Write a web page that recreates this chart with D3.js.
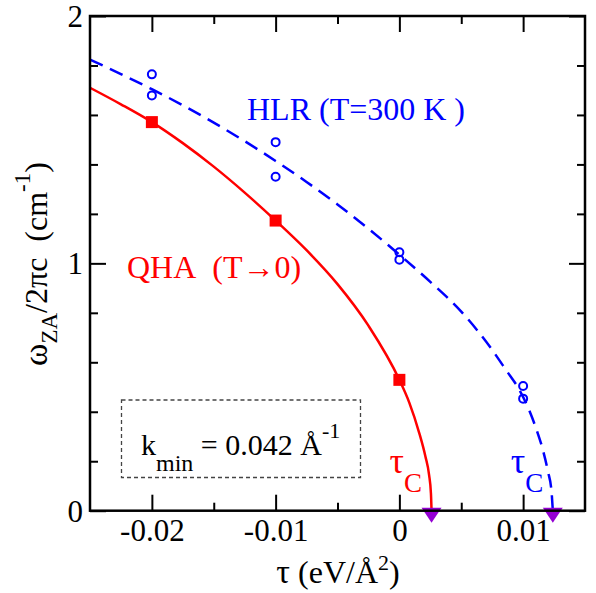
<!DOCTYPE html>
<html>
<head>
<meta charset="utf-8">
<script src="https://cdn.jsdelivr.net/npm/d3@7"></script>
<style>
  html, body { margin: 0; padding: 0; background: #fff; }
  svg { display: block; }
</style>
</head>
<body>
<svg id="chart" width="596" height="593" font-family="Liberation Serif"></svg>
<script>
// Axis ticks
const tauMajor = [-0.02, -0.01, 0, 0.01];
const tauMajorLabels = ["-0.02", "-0.01", "0", "0.01"];
const tauMinor = [-0.015, -0.005, 0.005];
const omegaMajor = [0, 1, 2];
const omegaMajorLabels = ["0", "1", "2"];
const omegaMinor = [0.2, 0.4, 0.6, 0.8, 1.2, 1.4, 1.6, 1.8];

// QHA (T -> 0): computed points
const qhaTau = [-0.02, -0.01, 0];
const qhaOmega = [1.571, 1.173, 0.529];
// QHA fit curve
const qhaFitTau = [-0.025, -0.0225, -0.02, -0.0175, -0.015, -0.0125, -0.01, -0.0075, -0.005, -0.0025, 0, 0.0008, 0.0016, 0.0021, 0.0024, 0.00255, 0.0026];
const qhaFitOmega = [1.71, 1.643, 1.571, 1.486, 1.391, 1.286, 1.173, 1.053, 0.916, 0.748, 0.529, 0.437, 0.315, 0.22, 0.145, 0.07, 0];

// HLR (T = 300 K): computed points
const hlrTau = [-0.02, -0.02, -0.01, -0.01, 0, 0, 0.01, 0.01];
const hlrOmega = [1.764, 1.679, 1.490, 1.350, 1.045, 1.015, 0.504, 0.453];
// HLR fit curve
const hlrFitTau = [-0.025, -0.0225, -0.02, -0.0175, -0.015, -0.0125, -0.01, -0.0075, -0.005, -0.0025, 0, 0.0025, 0.005, 0.0075, 0.0086, 0.0097, 0.0105, 0.0111, 0.0116, 0.012, 0.0123, 0.0124];
const hlrFitOmega = [1.824, 1.765, 1.704, 1.639, 1.569, 1.494, 1.414, 1.329, 1.238, 1.14, 1.035, 0.925, 0.805, 0.65, 0.57, 0.488, 0.405, 0.325, 0.245, 0.16, 0.075, 0];

// Critical strains
const tauC = [0.0026, 0.0124];
const tauCColors = ["#ff0000", "#0000ff"];

const SERIF = "Liberation Serif";
const FONT = 31;

const svg = d3.select("#chart");
const x = d3.scaleLinear().domain([-0.025, 0.015]).range([90, 585]);
const y = d3.scaleLinear().domain([0, 2]).range([510.7, 16]);

function addText(parent) {
  return parent.append("text").style("font-family", SERIF);
}

// Curves
const line = d3.line().x(d => x(d[0])).y(d => y(d[1])).curve(d3.curveMonotoneX);

svg.append("path")
  .datum(d3.zip(qhaFitTau, qhaFitOmega))
  .attr("d", line)
  .attr("fill", "none").attr("stroke", "#ff0000").attr("stroke-width", 2.5);

svg.append("path")
  .datum(d3.zip(hlrFitTau, hlrFitOmega))
  .attr("d", line)
  .attr("fill", "none").attr("stroke", "#0000ff").attr("stroke-width", 2.5)
  .attr("stroke-dasharray", "14,8");

// Points
svg.append("g").selectAll("rect")
  .data(d3.zip(qhaTau, qhaOmega))
  .join("rect")
  .attr("x", d => x(d[0]) - 6).attr("y", d => y(d[1]) - 6)
  .attr("width", 12).attr("height", 12)
  .attr("fill", "#ff0000");

svg.append("g").selectAll("circle")
  .data(d3.zip(hlrTau, hlrOmega))
  .join("circle")
  .attr("cx", d => x(d[0])).attr("cy", d => y(d[1])).attr("r", 4)
  .attr("fill", "none").attr("stroke", "#0000ff").attr("stroke-width", 2);

// Critical strain markers
svg.append("g").selectAll("path")
  .data(tauC)
  .join("path")
  .attr("d", d => {
    const cx = x(d), cy = y(0);
    return `M${cx - 10},${cy - 3}L${cx + 10},${cy - 3}L${cx},${cy + 12}Z`;
  })
  .attr("fill", "#9400d3");

// Axes: ticks point inward on all four sides
function styleAxis(g) {
  g.attr("font-family", SERIF);
  g.select(".domain").remove();
  g.selectAll(".tick line").attr("stroke", "#000").attr("stroke-width", 2);
}

svg.append("g").attr("transform", `translate(0,${y(0)})`)
  .call(d3.axisBottom(x).tickValues(tauMajor).tickSize(-16)
    .tickFormat((d, i) => tauMajorLabels[i]))
  .call(styleAxis)
  .call(g => g.selectAll(".tick text")
    .attr("y", 30).attr("dy", 0)
    .attr("font-size", FONT).style("font-family", SERIF).attr("fill", "#000"));

svg.append("g").attr("transform", `translate(0,${y(0)})`)
  .call(d3.axisBottom(x).tickValues(tauMinor).tickSize(-8).tickFormat(""))
  .call(styleAxis);

svg.append("g").attr("transform", `translate(0,${y(2)})`)
  .call(d3.axisTop(x).tickValues(tauMajor).tickSize(-16).tickFormat(""))
  .call(styleAxis);
svg.append("g").attr("transform", `translate(0,${y(2)})`)
  .call(d3.axisTop(x).tickValues(tauMinor).tickSize(-8).tickFormat(""))
  .call(styleAxis);

svg.append("g").attr("transform", `translate(${x(-0.025)},0)`)
  .call(d3.axisLeft(y).tickValues(omegaMajor).tickSize(-16)
    .tickFormat((d, i) => omegaMajorLabels[i]))
  .call(styleAxis)
  .call(g => g.selectAll(".tick text")
    .attr("x", -7).attr("dy", 10.5)
    .attr("font-size", FONT).style("font-family", SERIF).attr("fill", "#000"));
svg.append("g").attr("transform", `translate(${x(-0.025)},0)`)
  .call(d3.axisLeft(y).tickValues(omegaMinor).tickSize(-8).tickFormat(""))
  .call(styleAxis);

svg.append("g").attr("transform", `translate(${x(0.015)},0)`)
  .call(d3.axisRight(y).tickValues(omegaMajor).tickSize(-16).tickFormat(""))
  .call(styleAxis);
svg.append("g").attr("transform", `translate(${x(0.015)},0)`)
  .call(d3.axisRight(y).tickValues(omegaMinor).tickSize(-8).tickFormat(""))
  .call(styleAxis);

// Frame
svg.append("rect")
  .attr("x", x(-0.025)).attr("y", y(2))
  .attr("width", x(0.015) - x(-0.025)).attr("height", y(0) - y(2))
  .attr("fill", "none").attr("stroke", "#000").attr("stroke-width", 2.5);

// Axis titles
const yTitle = addText(svg)
  .attr("transform", "translate(47,264) rotate(-90)")
  .attr("text-anchor", "middle").attr("font-size", 32).attr("fill", "#000");
yTitle.append("tspan").attr("font-size", 34).text("ω");
yTitle.append("tspan").attr("font-size", 23).attr("dy", 10).text("ZA");
yTitle.append("tspan").attr("dy", -10).text("/2πc\u00a0\u00a0(cm");
yTitle.append("tspan").attr("font-size", 23).attr("dy", -17).text("-1");
yTitle.append("tspan").attr("dy", 17).text(")");

const xTitle = addText(svg)
  .attr("x", 338).attr("y", 583)
  .attr("text-anchor", "middle").attr("font-size", 32).attr("fill", "#000");
xTitle.append("tspan").attr("font-size", 34).text("τ");
xTitle.append("tspan").text("\u00a0(eV/Å");
xTitle.append("tspan").attr("font-size", 22).attr("dy", -13).text("2");
xTitle.append("tspan").attr("dy", 13).text(")");

// Series labels
addText(svg).attr("x", 247).attr("y", 120)
  .attr("font-size", 32).attr("fill", "#0000ff").text("HLR (T=300 K\u00a0)");
addText(svg).attr("x", 127).attr("y", 278)
  .attr("font-size", 32).attr("fill", "#ff0000").text("QHA\u00a0\u00a0(T→0)");

// Critical strain labels
tauC.forEach((t, i) => {
  const lbl = addText(svg)
    .attr("x", x(t) - 42).attr("y", 473)
    .attr("font-size", 36).attr("fill", tauCColors[i]);
  lbl.append("tspan").text("τ");
  lbl.append("tspan").attr("font-size", 27).attr("dy", 19).text("C");
});

// k_min box
svg.append("rect")
  .attr("x", 121.5).attr("y", 400).attr("width", 239).attr("height", 77.5)
  .attr("fill", "none").attr("stroke", "#444").attr("stroke-width", 1.3)
  .attr("stroke-dasharray", "4,3");
const k = addText(svg).attr("x", 141).attr("y", 455)
  .attr("font-size", 30).attr("fill", "#000");
k.append("tspan").text("k");
k.append("tspan").attr("font-size", 24).attr("dy", 16).text("min");
k.append("tspan").attr("dy", -16).text("\u00a0= 0.042 Å");
k.append("tspan").attr("font-size", 22).attr("dy", -17).text("-1");
</script>
</body>
</html>
